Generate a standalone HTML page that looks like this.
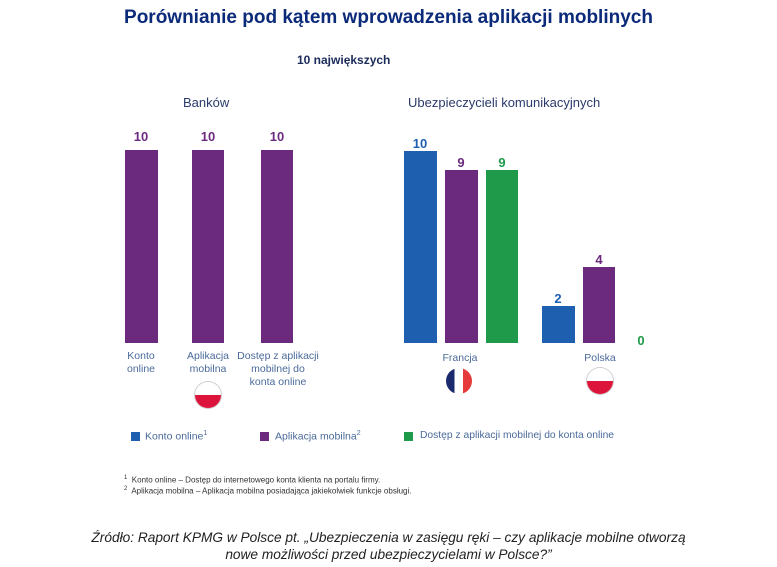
<!DOCTYPE html>
<html><head><meta charset="utf-8"><style>
body{margin:0;width:777px;height:567px;background:#fff;font-family:"Liberation Sans",sans-serif;position:relative;overflow:hidden}
.a{position:absolute;white-space:nowrap}
.b{position:absolute}
.n{position:absolute;font-weight:bold;font-size:13px;text-align:center;width:40px}
.l{position:absolute;font-size:10.5px;color:#4a6a9a;text-align:center;line-height:13px}
</style></head><body>
<div class="a" style="left:0;width:777px;text-align:center;top:7px;font-size:19px;font-weight:bold;color:#0b2a7a">Porównianie pod kątem wprowadzenia aplikacji moblinych</div>
<div class="a" style="left:297px;top:53px;font-size:12px;font-weight:bold;color:#1a2a5a">10 największych</div>
<div class="a" style="left:183px;top:95px;font-size:13px;color:#2a3a6a">Banków</div>
<div class="a" style="left:408px;top:95px;font-size:13px;color:#2a3a6a">Ubezpieczycieli komunikacyjnych</div>

<div class="b" style="left:125px;top:150px;width:33px;height:193px;background:#6b2a7d"></div>
<div class="b" style="left:192px;top:150px;width:32px;height:193px;background:#6b2a7d"></div>
<div class="b" style="left:261px;top:150px;width:32px;height:193px;background:#6b2a7d"></div>
<div class="n" style="left:121px;top:129px;color:#6b2a7d">10</div>
<div class="n" style="left:188px;top:129px;color:#6b2a7d">10</div>
<div class="n" style="left:257px;top:129px;color:#6b2a7d">10</div>

<div class="b" style="left:404px;top:151px;width:33px;height:192px;background:#1f5fb0"></div>
<div class="b" style="left:445px;top:170px;width:33px;height:173px;background:#6b2a7d"></div>
<div class="b" style="left:486px;top:170px;width:32px;height:173px;background:#1e9a4a"></div>
<div class="b" style="left:542px;top:306px;width:33px;height:37px;background:#1f5fb0"></div>
<div class="b" style="left:583px;top:267px;width:32px;height:76px;background:#6b2a7d"></div>
<div class="n" style="left:400px;top:136px;color:#1f5fb0">10</div>
<div class="n" style="left:441px;top:155px;color:#6b2a7d">9</div>
<div class="n" style="left:482px;top:155px;color:#1e9a4a">9</div>
<div class="n" style="left:538px;top:291px;color:#1f5fb0">2</div>
<div class="n" style="left:579px;top:252px;color:#6b2a7d">4</div>
<div class="n" style="left:621px;top:333px;color:#1e9a4a">0</div>

<div class="l" style="left:115px;top:350px;width:52px">Konto<br>online</div>
<div class="l" style="left:178px;top:350px;width:60px">Aplikacja<br>mobilna</div>
<div class="l" style="left:237px;top:350px;width:82px">Dostęp z aplikacji<br>mobilnej do<br>konta online</div>
<div class="l" style="left:430px;top:352px;width:60px">Francja</div>
<div class="l" style="left:570px;top:352px;width:60px">Polska</div>

<div class="b" style="left:195px;top:382px;width:26px;height:26px;border-radius:50%;overflow:hidden;box-shadow:0 0 0 1px #ccc;background:linear-gradient(#fff 50%,#dc143c 50%)"></div>
<div class="b" style="left:446px;top:368px;width:26px;height:26px;border-radius:50%;overflow:hidden;background:linear-gradient(90deg,#1a2a6c 33%,#fff 33%,#fff 66%,#e63b3b 66%)"></div>
<div class="b" style="left:587px;top:368px;width:26px;height:26px;border-radius:50%;overflow:hidden;box-shadow:0 0 0 1px #ccc;background:linear-gradient(#fff 50%,#dc143c 50%)"></div>

<div class="b" style="left:131px;top:432px;width:9px;height:9px;background:#1f5fb0"></div>
<div class="a" style="left:145px;top:430px;font-size:10.5px;color:#4a6a9a">Konto online<sup style="font-size:7px">1</sup></div>
<div class="b" style="left:260px;top:432px;width:9px;height:9px;background:#6b2a7d"></div>
<div class="a" style="left:275px;top:430px;font-size:10.5px;color:#4a6a9a">Aplikacja mobilna<sup style="font-size:7px">2</sup></div>
<div class="b" style="left:404px;top:432px;width:9px;height:9px;background:#1e9a4a"></div>
<div class="a" style="left:420px;top:430px;font-size:10.3px;color:#4a6a9a">Dostęp z aplikacji mobilnej do konta online</div>

<div class="a" style="left:124px;top:475px;font-size:8px;color:#333"><sup style="font-size:6px">1</sup>&nbsp; Konto online – Dostęp do internetowego konta klienta na portalu firmy.</div>
<div class="a" style="left:124px;top:486px;font-size:8px;color:#333"><sup style="font-size:6px">2</sup>&nbsp; Aplikacja mobilna – Aplikacja mobilna posiadająca jakiekolwiek funkcje obsługi.</div>

<div class="a" style="left:0;width:777px;text-align:center;top:529px;font-size:13.7px;font-style:italic;color:#222;line-height:17px">Źródło: Raport KPMG w Polsce pt. „Ubezpieczenia w zasięgu ręki – czy aplikacje mobilne otworzą<br>nowe możliwości przed ubezpieczycielami w Polsce?”</div>
</body></html>
